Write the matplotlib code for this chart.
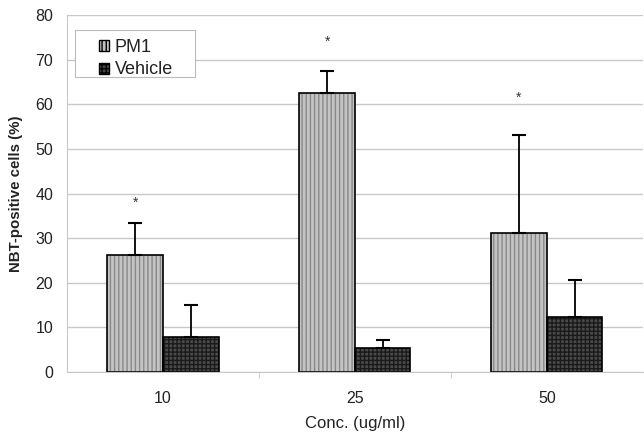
import numpy as np
import matplotlib.pyplot as plt
from matplotlib.patches import Patch, Rectangle

plt.rcParams['font.family'] = ['Liberation Sans', 'DejaVu Sans']

concs = ['10', '25', '50']
pm1 = [26.3, 62.5, 31.1]
pm1_err = [7.2, 4.9, 22.0]
vehicle = [7.8, 5.4, 12.4]
vehicle_err = [7.1, 1.8, 8.2]
star_y = [38, 74, 61.5]

x = np.arange(len(concs))
w = 0.29

fig = plt.figure(figsize=(6.44, 4.32), dpi=100)
ax = fig.add_axes([0.104, 0.139, 0.894, 0.826])

ax.set_ylim(0, 80)
ax.set_xlim(-0.5, 2.5)
ax.yaxis.grid(True, color='#c8c8c8', linewidth=1)
ax.set_axisbelow(True)

# textured fill, then black outline
ax.bar(x - w / 2, pm1, w, color='#c4c4c4', edgecolor='#888888', hatch='||||', linewidth=0)
ax.bar(x + w / 2, vehicle, w, color='#4a4a4a', edgecolor='#1a1a1a', hatch='++++', linewidth=0)
ax.bar(x - w / 2, pm1, w, fill=False, edgecolor='black', linewidth=1.2)
ax.bar(x + w / 2, vehicle, w, fill=False, edgecolor='black', linewidth=1.2)

ax.errorbar(x - w / 2, pm1, yerr=[[0] * 3, pm1_err], fmt='none', ecolor='black',
            elinewidth=1.3, capsize=5, capthick=1.5)
ax.errorbar(x + w / 2, vehicle, yerr=[[0] * 3, vehicle_err], fmt='none', ecolor='black',
            elinewidth=1.3, capsize=5, capthick=1.5)

for xi, yi in zip(x, star_y):
    ax.text(xi - w / 2, yi, '*', ha='center', va='center', fontsize=10, color='#333333')

# legend box drawn separately so its padding can match
ax.add_patch(Rectangle((0.014, 0.826), 0.208, 0.132, transform=ax.transAxes,
                       facecolor='white', edgecolor='#bbbbbb', linewidth=0.8, zorder=4))
handles = [Patch(facecolor='#c4c4c4', edgecolor='black', hatch='||||', label='PM1'),
           Patch(facecolor='#4a4a4a', edgecolor='black', hatch='++++', label='Vehicle')]
leg = ax.legend(handles=handles, loc='upper left', bbox_to_anchor=(0.053, 0.938),
                fontsize=13, frameon=False,
                handlelength=0.55, handleheight=0.55, handletextpad=0.3,
                borderpad=0.1, labelspacing=0.3, borderaxespad=0)
leg.set_zorder(5)
for t in leg.get_texts():
    t.set_color('#222222')

for s in ['top', 'right']:
    ax.spines[s].set_visible(False)
ax.spines['left'].set_color('#c8c8c8')
ax.spines['bottom'].set_color('#c8c8c8')

ax.set_yticks(range(0, 81, 10))
ax.tick_params(axis='y', length=0, labelsize=11.5, pad=10, labelcolor='#222222')
ax.set_xticks(x)
ax.set_xticklabels(concs)
ax.tick_params(axis='x', length=0, labelsize=11.5, pad=14, labelcolor='#222222')
ax.set_xticks([0.5, 1.5], minor=True)
ax.tick_params(axis='x', which='minor', length=4, color='#c8c8c8')

ax.set_ylabel('NBT-positive cells (%)', fontsize=10.8, fontweight='bold', color='#222222', labelpad=9)
ax.set_xlabel('Conc. (ug/ml)', fontsize=12, color='#222222', labelpad=7)

fig.savefig('out.png', dpi=100)
